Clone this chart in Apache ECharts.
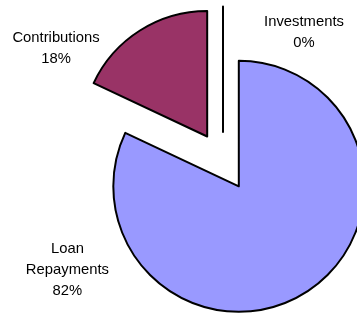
<!DOCTYPE html>
<html>
<head>
<meta charset="utf-8">
<script src="https://cdn.jsdelivr.net/npm/echarts@6/dist/echarts.min.js"></script>
<style>
  html, body { margin: 0; padding: 0; background: #fff; }
  #main { width: 357px; height: 314px; }
</style>
</head>
<body>
<div id="main"></div>
<script>
// slice names, values (percent) and fill colours
var categories = ['Loan Repayments', 'Contributions', 'Investments'];
var values = [82, 18, 0];
var colors = ['#9999FF', '#993366', '#9999FF'];

// where each data label sits (centre of the text block, px)
var labelPos = [[67.4, 270], [56, 48], [304, 32.5]];

var chart = echarts.init(document.getElementById('main'));

var total = 0;
for (var k = 0; k < values.length; k++) total += values[k];

var pieData = [];
var labels = [];
for (var i = 0; i < categories.length; i++) {
  pieData.push({
    name: categories[i],
    value: values[i],
    selected: true,
    itemStyle: { color: colors[i] }
  });
  // Excel style data label: name (wrapped on spaces) + percentage
  labels.push({
    type: 'text',
    x: labelPos[i][0],
    y: labelPos[i][1],
    silent: true,
    style: {
      text: categories[i].split(' ').join('\n') + '\n' + Math.round(values[i] / total * 100) + '%',
      fontFamily: 'Liberation Sans, Arial, sans-serif',
      fontSize: 14.8,
      lineHeight: 21,
      fill: '#000',
      align: 'center',
      verticalAlign: 'middle'
    }
  });
}

chart.setOption({
  animation: false,
  backgroundColor: '#fff',
  graphic: labels,
  series: [{
    type: 'pie',
    center: [223, 161.4],
    radius: 125.5,
    startAngle: 90,
    clockwise: true,
    selectedMode: 'multiple',
    selectedOffset: 29.5,
    itemStyle: { borderColor: '#000', borderWidth: 2 },
    label: { show: false },
    labelLine: { show: false },
    emphasis: { disabled: true },
    data: pieData
  }]
});
</script>
</body>
</html>
